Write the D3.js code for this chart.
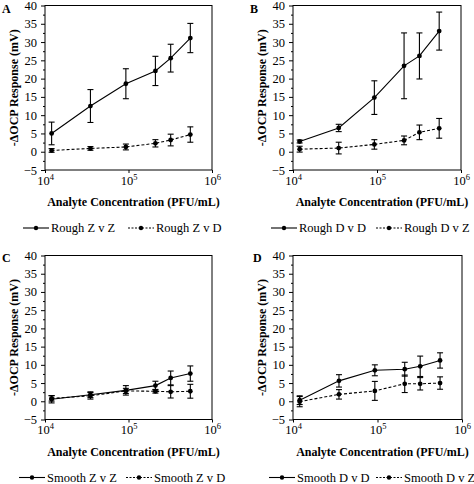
<!DOCTYPE html>
<html><head><meta charset="utf-8">
<script src="https://cdn.jsdelivr.net/npm/d3@7"></script>
<style>body{margin:0;background:#fff}svg{display:block}</style>
</head><body><svg id="c" width="474" height="484"></svg>
<script>
// ---- data ----
const concentrations = [1.2e4, 3.5e4, 9.3e4, 2.1e5, 3.2e5, 5.5e5];
const roughZvZ = [5.0, 12.5, 18.6, 22.1, 25.6, 31.1];
const roughZvZErr = [3.1, 4.5, 4.1, 4.0, 3.8, 4.0];
const roughZvD = [0.35, 0.9, 1.3, 2.3, 3.2, 4.7];
const roughZvDErr = [0.5, 0.5, 0.8, 1.0, 1.6, 2.1];
const roughDvD = [2.8, 6.5, 14.8, 23.5, 26.2, 33.0];
const roughDvDErr = [0.4, 1.0, 4.6, 9.0, 6.3, 5.2];
const roughDvZ = [0.7, 1.0, 2.0, 3.1, 5.3, 6.4];
const roughDvZErr = [0.8, 1.6, 1.3, 1.2, 2.0, 2.7];
const smoothZvZ = [0.55, 1.8, 3.0, 4.3, 6.4, 7.6];
const smoothZvZErr = [1.0, 0.8, 1.3, 1.2, 1.9, 2.1];
const smoothZvD = [0.8, 1.5, 2.85, 2.75, 2.6, 2.75];
const smoothZvDErr = [0.75, 0.9, 0.7, 0.5, 1.7, 1.9];
const smoothDvD = [0.3, 5.6, 8.5, 8.8, 9.6, 11.2];
const smoothDvDErr = [1.2, 1.7, 1.5, 1.9, 2.8, 2.1];
const smoothDvZ = [-0.1, 1.9, 2.85, 4.8, 4.8, 5.0];
const smoothDvZErr = [1.4, 1.3, 2.6, 2.4, 1.7, 1.7];
const yTicks = [-5, 0, 5, 10, 15, 20, 25, 30, 35, 40];
const yMinorTicks = [-2.5, 2.5, 7.5, 12.5, 17.5, 22.5, 27.5, 32.5, 37.5];
const xTicks = [1e4, 1e5, 1e6];
const xTitle = "Analyte Concentration (PFU/mL)";
const yTitle = "-ΔOCP Response (mV)";

// ---- layout ----
const FONT = '"Liberation Serif", "Times New Roman", serif';
const panels = [
  {letter:'A', lx:2, ly:13, x0:45, x1:212, y0:5.5, y1:170, leg:[23, 128],
   s:[{name:'Rough Z v Z', v:roughZvZ, e:roughZvZErr, dash:null},{name:'Rough Z v D', v:roughZvD, e:roughZvDErr, dash:'3,2'}]},
  {letter:'B', lx:250, ly:13, x0:293, x1:461, y0:5.5, y1:170, leg:[271, 376],
   s:[{name:'Rough D v D', v:roughDvD, e:roughDvDErr, dash:null},{name:'Rough D v Z', v:roughDvZ, e:roughDvZErr, dash:'3,2'}]},
  {letter:'C', lx:2, ly:262, x0:45, x1:212, y0:255.5, y1:419.5, leg:[19, 126],
   s:[{name:'Smooth Z v Z', v:smoothZvZ, e:smoothZvZErr, dash:null},{name:'Smooth Z v D', v:smoothZvD, e:smoothZvDErr, dash:'3,2'}]},
  {letter:'D', lx:253, ly:262, x0:293, x1:462, y0:255.5, y1:419.5, leg:[269, 376],
   s:[{name:'Smooth D v D', v:smoothDvD, e:smoothDvDErr, dash:null},{name:'Smooth D v Z', v:smoothDvZ, e:smoothDvZErr, dash:'3,2'}]}
];

function txt(sel, size, bold) {
  return sel.style('font-family', FONT).style('font-size', size + 'px')
    .style('font-weight', bold ? 'bold' : 'normal').style('fill', '#000');
}

const svg = d3.select('#c');
panels.forEach(p => {
  const g = svg.append('g');
  const x = d3.scaleLog().domain([1e4, 1e6]).range([p.x0, p.x1]);
  const y = d3.scaleLinear().domain([-5, 40]).range([p.y1, p.y0]);

  // y axis major
  const ya = g.append('g').attr('transform', `translate(${p.x0},0)`)
    .call(d3.axisLeft(y).tickValues(yTicks).tickSize(4).tickPadding(4));
  ya.select('.domain').remove();
  txt(ya.selectAll('text'), 12.5, false);
  const ym = g.append('g').attr('transform', `translate(${p.x0},0)`)
    .call(d3.axisLeft(y).tickValues(yMinorTicks).tickSize(2).tickFormat(''));
  ym.select('.domain').remove();

  // x axis
  const xa = g.append('g').attr('transform', `translate(0,${p.y1})`)
    .call(d3.axisBottom(x).tickValues(xTicks).tickSize(3).tickPadding(3));
  xa.select('.domain').remove();
  txt(xa.selectAll('text'), 12.5, false)
    .each(function(d) {
      const t = d3.select(this);
      t.text('');
      t.append('tspan').text('10');
      t.append('tspan').attr('dy', -5).style('font-size', '8.5px').text(Math.round(Math.log10(d)));
    });

  // frame
  g.append('rect').attr('x', p.x0).attr('y', p.y0)
    .attr('width', p.x1 - p.x0).attr('height', p.y1 - p.y0)
    .attr('fill', 'none').attr('stroke', '#000').attr('stroke-width', 1);

  // series
  p.s.forEach(s => {
    const pts = concentrations.map((c, i) => ({c, v: s.v[i], e: s.e[i]}));
    const line = d3.line().x(d => x(d.c)).y(d => y(d.v));
    g.append('path').datum(pts).attr('d', line).attr('fill', 'none')
      .attr('stroke', '#000').attr('stroke-width', 1.1)
      .attr('stroke-dasharray', s.dash);
    const eb = g.append('g').attr('stroke', '#000').attr('stroke-width', 1.1);
    pts.forEach(d => {
      const cx = x(d.c);
      eb.append('line').attr('x1', cx).attr('x2', cx).attr('y1', y(d.v - d.e)).attr('y2', y(d.v + d.e));
      eb.append('line').attr('x1', cx - 3).attr('x2', cx + 3).attr('y1', y(d.v + d.e)).attr('y2', y(d.v + d.e));
      eb.append('line').attr('x1', cx - 3).attr('x2', cx + 3).attr('y1', y(d.v - d.e)).attr('y2', y(d.v - d.e));
    });
    g.selectAll(null).data(pts).enter().append('circle')
      .attr('cx', d => x(d.c)).attr('cy', d => y(d.v)).attr('r', 2.4).attr('fill', '#000');
  });

  // letter
  txt(g.append('text').attr('x', p.lx).attr('y', p.ly), 12, true).text(p.letter);

  // y title
  const yc = (p.y0 + p.y1) / 2;
  txt(g.append('text').attr('transform', `translate(${p.x0 - 27},${yc}) rotate(-90)`)
    .attr('text-anchor', 'middle'), 12, true).text(yTitle);

  // x title
  const xc = (p.x0 + p.x1) / 2 + 5;
  txt(g.append('text').attr('x', xc).attr('y', p.y1 + 36).attr('text-anchor', 'middle'), 12, true).text(xTitle);

  // legend
  const ly = p.y1 + 58;
  p.s.forEach((s, k) => {
    const sx = p.leg[k];
    g.append('line').attr('x1', sx).attr('x2', sx + 26).attr('y1', ly).attr('y2', ly)
      .attr('stroke', '#000').attr('stroke-width', 1.1).attr('stroke-dasharray', s.dash ? '2,1.5' : null);
    g.append('circle').attr('cx', sx + 13).attr('cy', ly).attr('r', 2.2).attr('fill', '#000');
    txt(g.append('text').attr('x', sx + 28).attr('y', ly + 4), 12.5, false).text(s.name);
  });
});
</script></body></html>
